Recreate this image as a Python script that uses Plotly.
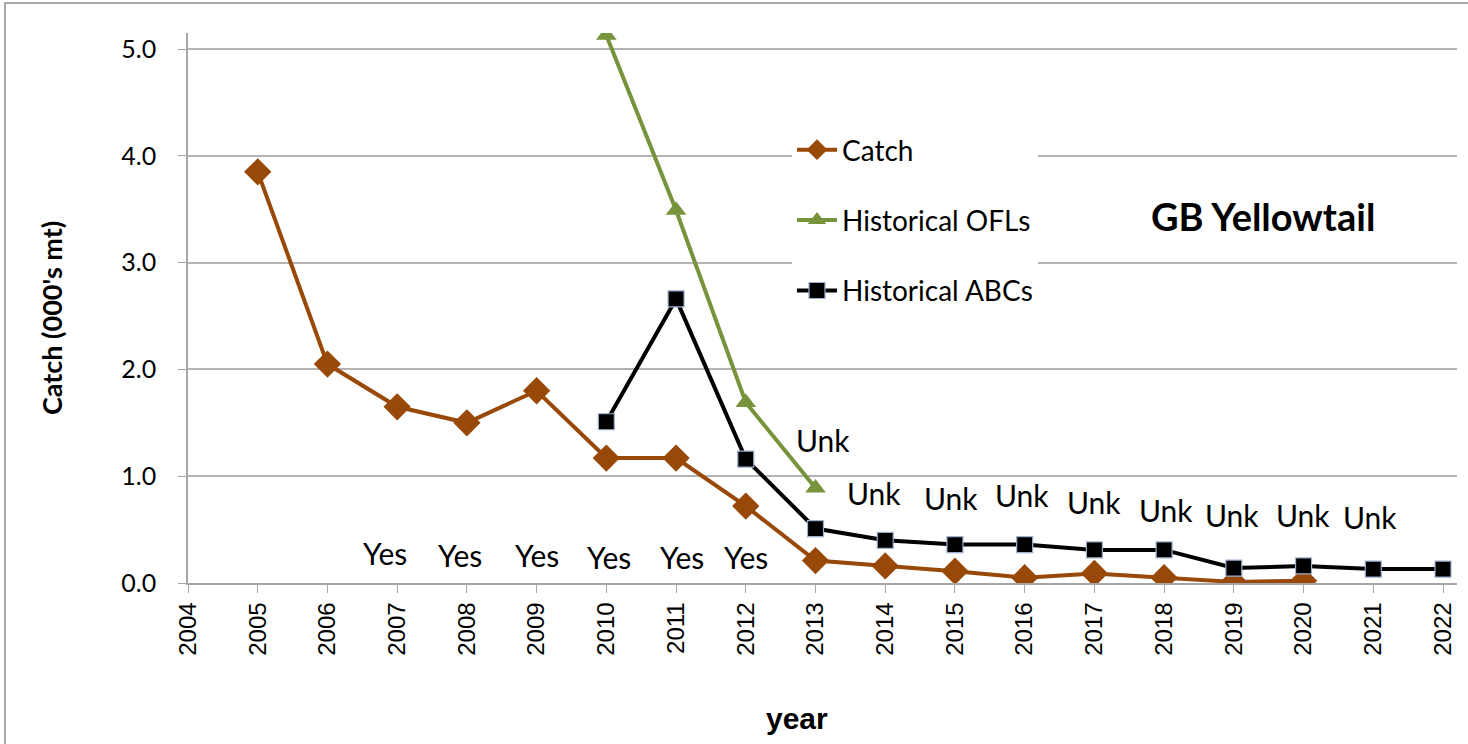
import plotly.graph_objects as go

# ---- data ----
catch_years = [2005, 2006, 2007, 2008, 2009, 2010, 2011, 2012, 2013, 2014, 2015, 2016, 2017, 2018, 2019, 2020]
catch_vals = [3.85, 2.05, 1.65, 1.50, 1.80, 1.17, 1.17, 0.72, 0.21, 0.16, 0.11, 0.05, 0.09, 0.05, 0.01, 0.02]

ofl_years = [2010, 2011, 2012, 2013]
ofl_vals = [5.13, 3.49, 1.69, 0.89]

abc_years = [2010, 2011, 2012, 2013, 2014, 2015, 2016, 2017, 2018, 2019, 2020, 2021, 2022]
abc_vals = [1.51, 2.66, 1.16, 0.51, 0.40, 0.36, 0.36, 0.31, 0.31, 0.14, 0.16, 0.13, 0.13]

tick_years = list(range(2004, 2023))

yes_x = [2006.83, 2007.90, 2009.0, 2010.04, 2011.09, 2012.0]
yes_y = [0.28, 0.26, 0.26, 0.24, 0.24, 0.24]
yes_text = ["Yes"] * 6

unk_x = [2013.11, 2013.84, 2014.94, 2015.96, 2016.99, 2018.03, 2018.97, 2019.99, 2020.95]
unk_y = [1.34, 0.84, 0.80, 0.82, 0.76, 0.68, 0.64, 0.64, 0.62]
unk_text = ["Unk"] * 9

CATCH_C = "#984807"
OFL_C = "#77933C"
ABC_C = "#000000"
TXT_FONT = "Lato, 'Open Sans', sans-serif"
AX_FONT = "'Liberation Sans', Arial, sans-serif"

fig = go.Figure()
fig.add_trace(go.Scatter(
    x=catch_years, y=catch_vals, name="Catch", mode="lines+markers",
    line=dict(color=CATCH_C, width=4),
    marker=dict(symbol="diamond", size=21, color=CATCH_C),
    legendgroup="a"))
fig.add_trace(go.Scatter(
    x=ofl_years, y=ofl_vals, name="Historical OFLs", mode="lines+markers",
    line=dict(color=OFL_C, width=4),
    marker=dict(symbol="triangle-up", size=18, color=OFL_C),
    legendgroup="b"))
fig.add_trace(go.Scatter(
    x=abc_years, y=abc_vals, name="Historical ABCs", mode="lines+markers",
    line=dict(color=ABC_C, width=4),
    marker=dict(symbol="square", size=16, color=ABC_C, line=dict(color="#9DB0D0", width=1.2)),
    legendgroup="c"))

W, H = 1468, 744
L, R, T, B = 188, 11, 33, 161
pw, ph = W - L - R, H - T - B

annotations = []
for xx, yy, tt in zip(yes_x, yes_y, yes_text):
    annotations.append(dict(x=xx, y=yy, xref="x", yref="y", text=tt, showarrow=False,
                            font=dict(family=TXT_FONT, size=30, color="black")))
for xx, yy, tt in zip(unk_x, unk_y, unk_text):
    annotations.append(dict(x=xx, y=yy, xref="x", yref="y", text=tt, showarrow=False,
                            font=dict(family=TXT_FONT, size=30, color="black")))
annotations.append(dict(x=2019.42, y=3.44, xref="x", yref="y", text="<b>GB Yellowtail</b>",
                        showarrow=False, font=dict(family=TXT_FONT, size=38, color="black")))
annotations.append(dict(x=(797 - L) / pw, y=-(718 - (H - B)) / ph, xref="paper", yref="paper",
                        xanchor="center", yanchor="middle",
                        text="<b>year</b>", showarrow=False,
                        font=dict(family=AX_FONT, size=30, color="black")))
annotations.append(dict(x=-(L - 51) / pw, y=((H - B) - 318) / ph, xref="paper", yref="paper",
                        xanchor="center", yanchor="middle",
                        text="<b>Catch (000's mt)</b>", showarrow=False, textangle=-90,
                        font=dict(family=TXT_FONT, size=27, color="black")))

shapes = [dict(type="rect", xref="paper", yref="paper",
               x0=(5 - L) / pw, x1=(W + 10 - L) / pw,
               y0=-(B + 10) / ph, y1=(H - B - 3) / ph,
               line=dict(color="#8C8C8C", width=1.5), fillcolor="rgba(0,0,0,0)", layer="below")]

fig.update_layout(
    width=W, height=H,
    margin=dict(l=L, r=R, t=T, b=B, autoexpand=False),
    plot_bgcolor="white", paper_bgcolor="white",
    annotations=annotations, shapes=shapes,
    showlegend=True,
    legend=dict(x=(792 - L) / pw, y=(H - B - 125) / ph, xanchor="left", yanchor="top",
                bgcolor="white", font=dict(family=TXT_FONT, size=28, color="black"),
                tracegroupgap=31, itemwidth=40),
    xaxis=dict(range=[2004, 2004 + (1457 - L) / ((1443 - L) / 18)],
               tickmode="array", tickvals=tick_years, ticktext=[str(t) for t in tick_years],
               tickangle=-90, ticks="outside", ticklen=8, tickcolor="#A6A6A6",
               showline=True, linecolor="#A6A6A6", linewidth=1.5, showgrid=False, zeroline=False,
               tickfont=dict(family=AX_FONT, size=24, color="black")),
    yaxis=dict(range=[0, 5.15], tickmode="array", tickvals=[0, 1, 2, 3, 4, 5],
               ticktext=["0.0", "1.0", "2.0", "3.0", "4.0", "5.0"],
               ticks="outside", ticklen=8, tickcolor="#A6A6A6",
               showline=True, linecolor="#A6A6A6", linewidth=1.5,
               showgrid=True, gridcolor="#B3B3B3", gridwidth=1.5, zeroline=False,
               tickfont=dict(family=TXT_FONT, size=25, color="black"), ticklabelstandoff=17),
)

fig.write_html("out.html", config={"displayModeBar": False},
               post_script="document.body.style.margin='0';document.body.style.overflow='hidden';")
